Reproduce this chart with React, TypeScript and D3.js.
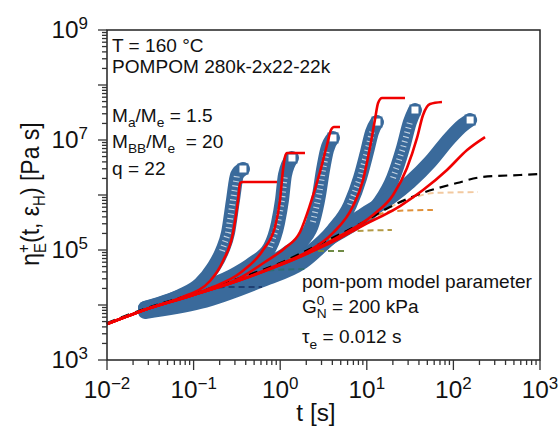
import React from "react";
import * as d3 from "d3";

// ---------- data ----------
// linear viscoelastic envelope (black dashed)
const lveT = [0.01, 0.0314, 0.0984, 0.344, 0.995, 2.88, 8.35, 18.5, 38, 110, 214, 588, 1000];
const lveEta = [4.71e3, 9.2e3, 1.58e4, 3.1e4, 5.8e4, 1.29e5, 2.97e5, 6.05e5, 1.0e6, 1.65e6, 2.12e6, 2.31e6, 2.41e6];

// pom-pom model predictions (red), one per strain rate
const pomT = [
  [0.01, 0.0314, 0.0697, 0.1547, 0.2185, 0.285, 0.326, 0.344, 0.3715, 0.918],
  [0.01, 0.0314, 0.0984, 0.1675, 0.344, 0.633, 0.871, 0.995, 1.077, 1.135, 1.198, 1.933],
  [0.01, 0.0314, 0.0984, 0.344, 0.667, 1.135, 1.694, 2.21, 2.88, 3.47, 3.86, 4.18, 4.9],
  [0.01, 0.0314, 0.0984, 0.344, 0.995, 2.04, 4.07, 6.93, 9.04, 10.9, 12.4, 13.5, 15.0, 27.6],
  [0.01, 0.0314, 0.0984, 0.344, 0.995, 2.21, 4.9, 11.8, 20.1, 29.1, 38, 44.6, 53.7, 73.8],
  [0.01, 0.0314, 0.0984, 0.344, 0.995, 2.88, 4.9, 8.35, 24.2, 44.6, 84.3, 144, 232],
];
const pomEta = [
  [4.5e3, 8.8e3, 1.34e4, 2.73e4, 6.3e4, 2.04e5, 8.1e5, 1.65e6, 1.72e6, 1.72e6],
  [4.5e3, 8.8e3, 1.52e4, 2.12e4, 3.82e4, 1.0e5, 2.62e5, 8.1e5, 2.85e6, 4.91e6, 5.8e6, 5.8e6],
  [4.5e3, 8.8e3, 1.52e4, 3.1e4, 6.05e4, 1.09e5, 2.12e5, 6.58e5, 2.62e6, 8.1e6, 1.52e7, 1.72e7, 1.72e7],
  [4.5e3, 8.8e3, 1.52e4, 2.85e4, 5.56e4, 9.2e4, 2.04e5, 6.3e5, 1.87e6, 7.46e6, 2.31e7, 4.71e7, 5.8e7, 5.8e7],
  [4.5e3, 8.8e3, 1.52e4, 2.85e4, 5.3e4, 9.2e4, 1.8e5, 4.33e5, 1.0e6, 3.1e6, 1.09e7, 2.85e7, 4.51e7, 4.91e7],
  [4.5e3, 8.8e3, 1.52e4, 2.85e4, 5.3e4, 1.09e5, 1.65e5, 2.62e5, 6.3e5, 1.23e6, 2.85e6, 6.58e6, 1.13e7],
];

// measured data (blue squares), one per strain rate
const expT = [
  [0.0275, 0.0378, 0.0697, 0.1186, 0.1675, 0.213, 0.2495, 0.285, 0.317, 0.3715],
  [0.0275, 0.0534, 0.1094, 0.263, 0.485, 0.762, 0.943, 1.049, 1.135, 1.368],
  [0.0275, 0.0697, 0.263, 0.633, 1.198, 1.833, 2.39, 2.81, 3.12, 3.47, 4.07],
  [0.0275, 0.1186, 0.585, 2.21, 4.07, 6.4, 8.35, 10.05, 11.5, 13.1],
  [0.0275, 0.1186, 0.585, 1.694, 3.76, 7.71, 14.2, 20.1, 26.2, 31.5, 36.0],
  [0.0275, 0.1186, 0.585, 1.833, 4.07, 9.04, 18.5, 31.5, 53.7, 91.4, 129, 156],
];
const expEta = [
  [8.8e3, 1.0e4, 1.46e4, 2.41e4, 4.71e4, 9.6e4, 2.04e5, 8.1e5, 2.31e6, 2.97e6],
  [8.8e3, 1.23e4, 1.87e4, 3.23e4, 5.8e4, 1.13e5, 3.1e5, 8.1e5, 2.31e6, 4.71e6],
  [8.45e3, 1.29e4, 2.51e4, 4.91e4, 8.8e4, 1.52e5, 3.23e5, 1.0e6, 2.85e6, 6.58e6, 1.09e7],
  [8.1e3, 1.4e4, 3.51e4, 9.2e4, 2.31e5, 6.58e5, 2.04e6, 6.05e6, 1.4e7, 2.12e7],
  [7.78e3, 1.23e4, 2.97e4, 6.58e4, 1.65e5, 3.23e5, 7.46e5, 2.04e6, 7.2e6, 2.12e7, 3.51e7],
  [7.46e3, 1.13e4, 2.73e4, 6.05e4, 1.8e5, 4.33e5, 8.8e5, 1.72e6, 3.98e6, 1.09e7, 1.87e7, 2.31e7],
];

// partial (mode-wise) linear envelopes (coloured dashed)
const modeT = [
  [0.0697, 0.1186, 0.231, 0.617],
  [0.263, 0.51, 0.871, 2.04],
  [0.995, 1.694, 2.88, 5.9],
  [2.88, 4.3, 7.3, 19.5],
  [8.35, 12.4, 21.2, 58],
  [18.5, 33.3, 61, 192],
];
const modeEta = [
  [1.34e4, 1.72e4, 2.12e4, 2.12e4],
  [2.62e4, 3.66e4, 4.33e4, 4.5e4],
  [5.8e4, 8.1e4, 9.6e4, 9.6e4],
  [1.29e5, 1.72e5, 2.21e5, 2.31e5],
  [2.97e5, 4.15e5, 5.12e5, 5.34e5],
  [6.05e5, 8.8e5, 1.09e6, 1.13e6],
];
const modeColors = ["#1f3f72", "#2e6e73", "#6f8a45", "#b39a45", "#e0913a", "#f2c9a0"];

const xTickExps = [-2, -1, 0, 1, 2, 3];
const yLabelExps = [3, 5, 7, 9];

// ---------- drawing ----------
const FONT = "'Liberation Sans', Arial, sans-serif";
const SX = 1.06;
const BLUE = "#3a6a9b";
const RED = "#f00000";

type P = [number, number];
const zip = (a: number[], b: number[]): P[] => a.map((v, i) => [v, b[i]] as P);

function Txt(props: { x: number; y: number; size: number; anchor?: string; children: React.ReactNode }) {
  const { x, y, size, anchor, children } = props;
  return (
    <text
      transform={`translate(${x},${y}) scale(${SX},1)`}
      fontSize={size}
      fontFamily={FONT}
      textAnchor={anchor || "start"}
      fill="#111"
    >
      {children}
    </text>
  );
}

function steepRuns(pts: P[]): P[][] {
  const runs: P[][] = [];
  let cur: P[] = [];
  for (let i = 0; i < pts.length - 1; i++) {
    const [x0, y0] = pts[i];
    const [x1, y1] = pts[i + 1];
    const steep = Math.abs(y1 - y0) > 2 * Math.abs(x1 - x0);
    if (steep) {
      if (!cur.length) cur.push(pts[i]);
      cur.push(pts[i + 1]);
    } else {
      if (cur.length) runs.push(cur);
      cur = [];
    }
  }
  if (cur.length) runs.push(cur);
  return runs;
}

export default function App() {
  const left = 107, right = 540, top = 30, bottom = 360;
  const x = d3.scaleLog().domain([1e-2, 1e3]).range([left, right]);
  const y = d3.scaleLog().domain([1e3, 1e9]).range([bottom, top]);
  const line = d3
    .line<P>()
    .x((d) => x(d[0]))
    .y((d) => y(d[1]))
    .curve(d3.curveMonotoneX);
  const pxLine = d3.line<P>();

  const xTicks = x.ticks();
  const yTicks = y.ticks();
  const isMajor = (v: number) => Math.abs(Math.log10(v) - Math.round(Math.log10(v))) < 1e-6;

  return (
    <svg
      width={560}
      height={427}
      style={{ position: "absolute", left: 0, top: 0, background: "#fff" }}
    >
      <rect x={0} y={0} width={560} height={427} fill="#fff" />

      {/* measured bands */}
      {expT.map((ts, i) => {
        const pts = zip(ts, expEta[i]);
        return <path key={"b" + i} d={line(pts) || ""} fill="none" stroke={BLUE} strokeWidth={14}
          strokeLinecap="round" strokeLinejoin="round" />;
      })}
      {expT.map((ts, i) => {
        const pts = zip(ts, expEta[i]).map((d) => [x(d[0]), y(d[1])] as P).slice(0, -1);
        return steepRuns(pts).map((r, j) => (
          <path key={"w" + i + "_" + j} d={pxLine(r) || ""} fill="none" stroke="#dde6f0"
            strokeWidth={6} strokeDasharray="1.1 3.6" opacity={0.85} />
        ));
      })}
      {expT.map((ts, i) => {
        const n = ts.length - 1;
        const cx = x(ts[n]);
        const cy = y(expEta[i][n]);
        return <rect key={"s" + i} x={cx - 4.5} y={cy - 4.5} width={9} height={9} fill="#fff"
          stroke={BLUE} strokeWidth={2} />;
      })}

      {/* mode-wise envelopes */}
      {modeT.map((ts, i) => (
        <path key={"m" + i} d={line(zip(ts, modeEta[i])) || ""} fill="none" stroke={modeColors[i]}
          strokeWidth={2} strokeDasharray="6 4" />
      ))}

      {/* LVE */}
      <path d={line(zip(lveT, lveEta)) || ""} fill="none" stroke="#000" strokeWidth={2.2}
        strokeDasharray="9 6" />

      {/* pom-pom predictions */}
      {pomT.map((ts, i) => (
        <path key={"r" + i} d={line(zip(ts, pomEta[i])) || ""} fill="none" stroke={RED}
          strokeWidth={2.6} strokeLinejoin="round" />
      ))}

      {/* frame */}
      <rect x={left} y={top} width={right - left} height={bottom - top} fill="none" stroke="#222"
        strokeWidth={1.5} />

      {/* x ticks */}
      {xTicks.map((v, i) => (
        <line key={"xt" + i} x1={x(v)} x2={x(v)} y1={bottom} y2={bottom + (isMajor(v) ? 10 : 5)}
          stroke="#333" strokeWidth={1.3} />
      ))}
      {/* y ticks */}
      {yTicks.map((v, i) => (
        <line key={"yt" + i} x1={left} x2={left - (isMajor(v) ? 9 : 5)} y1={y(v)} y2={y(v)}
          stroke="#333" strokeWidth={1.3} />
      ))}

      {/* tick labels */}
      {xTickExps.map((e) => (
        <Txt key={"xl" + e} x={x(Math.pow(10, e))} y={398} size={23} anchor="middle">
          10<tspan dy={-9} fontSize={16}>{e < 0 ? "\u2212" + Math.abs(e) : String(e)}</tspan>
        </Txt>
      ))}
      {yLabelExps.map((e) => (
        <Txt key={"yl" + e} x={88} y={y(Math.pow(10, e)) + 8} size={23} anchor="end">
          10<tspan dy={-9} fontSize={16}>{String(e)}</tspan>
        </Txt>
      ))}

      {/* axis titles */}
      <text transform="translate(39,194) rotate(-90) scale(1,1.15)" fontSize={23} fontFamily={FONT}
        textAnchor="middle" fill="#111">
        η<tspan dy={-9} fontSize={15}>+</tspan>
        <tspan dx={-8.8} dy={15} fontSize={15}>E</tspan>
        <tspan dy={-6}>(t, ε</tspan>
        <tspan dy={5} fontSize={15}>H</tspan>
        <tspan dy={-5}>) [Pa s]</tspan>
      </text>
      <Txt x={316} y={421} size={23} anchor="middle">t [s]</Txt>

      {/* annotations */}
      <Txt x={112} y={52} size={18}>T = 160 °C</Txt>
      <Txt x={112} y={73} size={18}>POMPOM 280k-2x22-22k</Txt>
      <Txt x={112} y={122} size={18}>
        M<tspan dy={5} fontSize={13}>a</tspan><tspan dy={-5}>/M</tspan>
        <tspan dy={5} fontSize={13}>e</tspan><tspan dy={-5}> = 1.5</tspan>
      </Txt>
      <Txt x={112} y={148} size={18}>
        M<tspan dy={5} fontSize={13}>BB</tspan><tspan dy={-5}>/M</tspan>
        <tspan dy={5} fontSize={13}>e</tspan><tspan dy={-5}>{"\u00a0 = 20"}</tspan>
      </Txt>
      <Txt x={112} y={175} size={18}>q = 22</Txt>

      <Txt x={302} y={288} size={18}>pom-pom model parameter</Txt>
      <Txt x={302} y={313} size={18}>
        G<tspan dy={-8} fontSize={13}>0</tspan>
        <tspan dx={-7.2} dy={13} fontSize={13}>N</tspan>
        <tspan dy={-5}> = 200 kPa</tspan>
      </Txt>
      <Txt x={302} y={343} size={18}>
        τ<tspan dy={6} fontSize={13}>e</tspan><tspan dy={-6}> = 0.012 s</tspan>
      </Txt>
    </svg>
  );
}
